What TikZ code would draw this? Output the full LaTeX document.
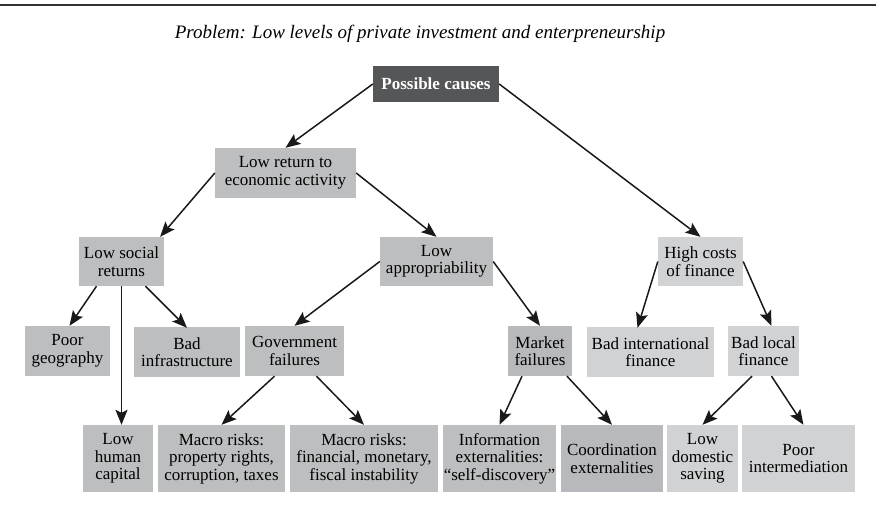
\documentclass[tikz,border=0pt]{standalone}
\usepackage{fontspec}
\setmainfont{Liberation Serif}
\usetikzlibrary{arrows.meta}

\definecolor{boxgray}{RGB}{189,190,192}
\definecolor{midgray}{RGB}{184,185,188}
\definecolor{lightgray}{RGB}{209,210,212}
\definecolor{darkgray}{RGB}{85,86,88}

\tikzset{
  box/.style={fill=boxgray, inner sep=0pt, align=center,
    font=\fontsize{17}{17.5}\selectfont},
  lightbox/.style={box, fill=lightgray},
  darkbox/.style={box, fill=darkgray, text=white,
    font=\fontsize{17}{17.5}\selectfont\bfseries},
  arr/.style={-{Stealth[length=15pt,width=12pt,inset=3pt]}, line width=1.5pt, black!90}
}

\begin{document}
\begin{tikzpicture}[x=1pt, y=-1pt]
\useasboundingbox (0,0) rectangle (876,512);
% Rule and title
\draw[line width=1.8pt, black!80] (0,5) -- (876,5);
\node at (420,34) {\fontsize{19}{20}\selectfont\itshape Problem: Low levels of private investment and enterpreneurship};
% Nodes
\node[darkbox, minimum width=126, minimum height=36] (pc) at (436,84) {Possible causes};
\node[box, minimum width=141, minimum height=50] (lr) at (285.5,173) {Low return to\\economic activity};
\node[box, minimum width=85, minimum height=49] (lsr) at (121.5,261.5) {Low social\\returns};
\node[box, minimum width=113, minimum height=49] (la) at (436.5,261.5) {Low\\appropriability};
\node[lightbox, minimum width=85, minimum height=49] (hc) at (700.5,261.5) {High costs\\of finance};
\node[box, minimum width=85, minimum height=50] (pg) at (67.5,351) {Poor\\geography};
\node[box, minimum width=106, minimum height=50] (bi) at (187,352) {Bad\\infrastructure};
\node[box, minimum width=99, minimum height=50] (gf) at (294.5,351) {Government\\failures};
\node[box, fill=midgray, minimum width=64, minimum height=50] (mf) at (540,351) {Market\\failures};
\node[lightbox, minimum width=127, minimum height=50] (bif) at (650.5,352) {Bad international\\finance};
\node[lightbox, minimum width=71, minimum height=50] (blf) at (763.5,351) {Bad local\\finance};
\node[box, minimum width=70, minimum height=67] (lhc) at (118,458.5) {Low\\human\\capital};
\node[box, minimum width=127, minimum height=67] (mr1) at (221.5,458.5) {Macro risks:\\property rights,\\corruption, taxes};
\node[box, minimum width=148, minimum height=67] (mr2) at (364,458.5) {Macro risks:\\financial, monetary,\\fiscal instability};
\node[box, minimum width=113, minimum height=67] (ie) at (499.5,458.5) {Information\\externalities:\\``self-discovery''};
\node[box, fill=midgray, minimum width=102, minimum height=67] (ce) at (612,458.5) {Coordination\\externalities};
\node[lightbox, minimum width=71, minimum height=67] (lds) at (702.5,458.5) {Low\\domestic\\saving};
\node[lightbox, minimum width=113, minimum height=67] (pi) at (798.5,458.5) {Poor\\intermediation};
% Arrows
\draw[arr] (pc.west) -- (lr.north);
\draw[arr] (pc.east) -- (hc.north);
\draw[arr] (lr.west) -- ([xshift=-4pt]lsr.north east);
\draw[arr] (lr.east) -- (la.north);
\draw[arr] ([xshift=-25pt]lsr.south) -- ([xshift=2pt]pg.north);
\draw[arr] (lsr.south) -- (lsr.south |- lhc.north);
\draw[arr] ([xshift=24pt]lsr.south) -- ([yshift=-1pt]bi.north);
\draw[arr] (la.west) -- (gf.north);
\draw[arr] (la.east) -- (mf.north);
\draw[arr] (hc.west) -- ([xshift=-13pt,yshift=-1pt]bif.north);
\draw[arr] (hc.east) -- ([xshift=8pt]blf.north);
\draw[arr] ([xshift=-20pt]gf.south) -- (mr1.north);
\draw[arr] ([xshift=22pt]gf.south) -- (mr2.north);
\draw[arr] ([xshift=-18pt]mf.south) -- (ie.north);
\draw[arr] ([xshift=27pt]mf.south) -- (ce.north);
\draw[arr] ([xshift=-11.5pt]blf.south) -- (lds.north);
\draw[arr] ([xshift=8pt]blf.south) -- ([xshift=5pt]pi.north);
\end{tikzpicture}
\end{document}
